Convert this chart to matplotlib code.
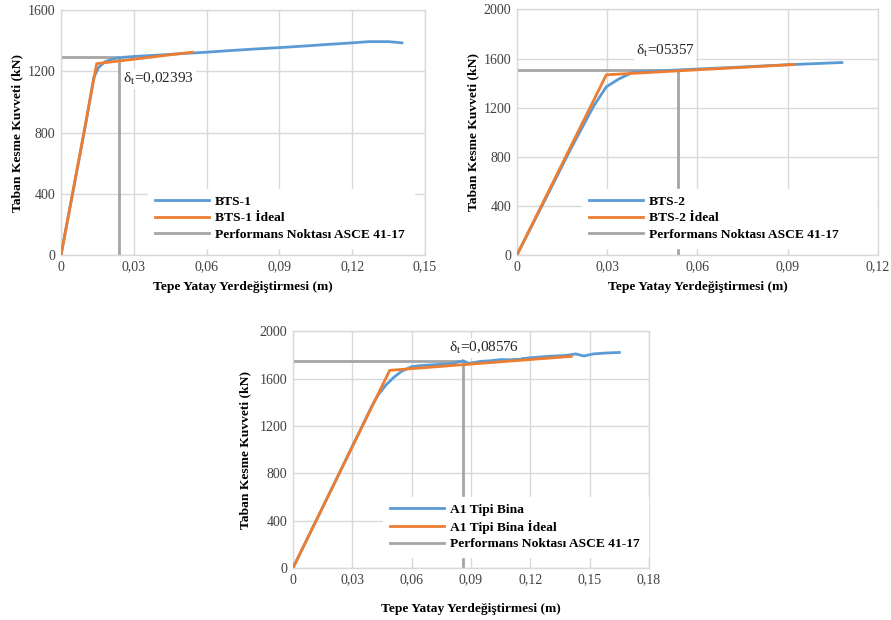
import matplotlib
matplotlib.use("Agg")
import matplotlib.pyplot as plt
from matplotlib.ticker import FixedLocator

plt.rcParams['font.family'] = ['Liberation Serif', 'DejaVu Serif']
plt.rcParams['mathtext.fontset'] = 'stix'

# ---- BTS-1 ----
bts1_x = [0, 0.005, 0.010, 0.0135, 0.0155, 0.018, 0.022, 0.026, 0.03, 0.04, 0.05, 0.06, 0.07, 0.08,
          0.09, 0.10, 0.11, 0.12, 0.127, 0.135, 0.1405]
bts1_y = [0, 420, 840, 1160, 1225, 1262, 1284, 1292, 1297, 1306, 1316, 1325, 1336, 1346,
          1355, 1365, 1376, 1386, 1394, 1394, 1386]
bts1i_x = [0, 0.0147, 0.0539]
bts1i_y = [0, 1250, 1325]
perf1_x = 0.02393
perf1_y = 1292
lab1 = ["BTS-1", "BTS-1 İdeal", "Performans Noktası ASCE 41-17"]
ann1 = r"δ$_\mathrm{t}$=0,02393"
xt1 = [0, 0.03, 0.06, 0.09, 0.12, 0.15]
xl1 = ["0", "0,03", "0,06", "0,09", "0,12", "0,15"]
yt1 = [0, 400, 800, 1200, 1600]

# ---- BTS-2 ----
bts2_x = [0, 0.008, 0.018, 0.0255, 0.0297, 0.0338, 0.0386, 0.05, 0.06, 0.07, 0.08, 0.09, 0.10, 0.108]
bts2_y = [0, 385, 870, 1213, 1370, 1433, 1490, 1503, 1515, 1526, 1538, 1550, 1560, 1568]
bts2i_x = [0, 0.0297, 0.0923]
bts2i_y = [0, 1468, 1552]
perf2_x = 0.05357
perf2_y = 1511
lab2 = ["BTS-2", "BTS-2 İdeal", "Performans Noktası ASCE 41-17"]
ann2 = r"δ$_\mathrm{t}$=05357"
xt2 = [0, 0.03, 0.06, 0.09, 0.12]
xl2 = ["0", "0,03", "0,06", "0,09", "0,12"]
yt2 = [0, 400, 800, 1200, 1600, 2000]

# ---- A1 Tipi Bina ----
a1_x = [0, 0.02, 0.04, 0.043, 0.047, 0.051, 0.055, 0.06, 0.065, 0.07, 0.08, 0.086, 0.089, 0.095,
        0.10, 0.105, 0.11, 0.12, 0.13, 0.138, 0.143, 0.147, 0.152, 0.158, 0.165]
a1_y = [0, 683, 1370, 1460, 1545, 1610, 1662, 1700, 1710, 1715, 1725, 1750, 1728, 1745,
        1750, 1760, 1758, 1775, 1788, 1795, 1808, 1790, 1808, 1815, 1820]
a1i_x = [0, 0.0489, 0.1407]
a1i_y = [0, 1669, 1787]
perf3_x = 0.08576
perf3_y = 1745
lab3 = ["A1 Tipi Bina", "A1 Tipi Bina İdeal", "Performans Noktası ASCE 41-17"]
ann3 = r"δ$_\mathrm{t}$=0,08576"
xt3 = [0, 0.03, 0.06, 0.09, 0.12, 0.15, 0.18]
xl3 = ["0", "0,03", "0,06", "0,09", "0,12", "0,15", "0,18"]
yt3 = [0, 400, 800, 1200, 1600, 2000]

BLUE = "#5B9BD5"
ORANGE = "#ED7D31"
GRAY = "#A5A5A5"
GRID = "#D9D9D9"
TXT = "#404040"
FS = 9.7

fig = plt.figure(figsize=(8.91, 6.2), dpi=100)


def panel(rect, cx, cy, ix, iy, px, py, labels, ann, annpos, xt, xl, yt, legrect, ylpad, xlpad):
    ax = fig.add_axes(rect)
    ax.set_xlim(xt[0], xt[-1])
    ax.set_ylim(yt[0], yt[-1])
    ax.xaxis.set_major_locator(FixedLocator(xt))
    ax.set_xticklabels(xl)
    ax.yaxis.set_major_locator(FixedLocator(yt))
    ax.set_yticklabels([str(v) for v in yt])
    ax.grid(True, color=GRID, lw=1.0)
    ax.set_axisbelow(True)
    for s in ax.spines.values():
        s.set_color(GRID)
        s.set_linewidth(1.0)
    ax.tick_params(length=0, labelsize=10, colors=TXT, pad=4)
    l1, = ax.plot(cx, cy, color=BLUE, lw=2.0, label=labels[0], zorder=3)
    l2, = ax.plot(ix, iy, color=ORANGE, lw=2.0, label=labels[1], zorder=4)
    l3, = ax.plot([xt[0], px, px], [py, py, yt[0]], color=GRAY, lw=2.0, label=labels[2], zorder=2)
    ax.text(annpos[0], annpos[1], ann, fontsize=11, color="#262626", va="center", ha="left",
            bbox=dict(facecolor="white", edgecolor="none", pad=1.5), zorder=5)
    ax.set_xlabel("Tepe Yatay Yerdeğiştirmesi (m)", fontsize=FS, fontweight="bold", labelpad=xlpad)
    ax.set_ylabel("Taban Kesme Kuvveti (kN)", fontsize=FS, fontweight="bold", labelpad=ylpad)
    leg = ax.legend(handles=[l1, l2, l3], loc="lower left", bbox_to_anchor=legrect, mode="expand",
                    prop=dict(weight="bold", size=FS), frameon=True, fancybox=False,
                    edgecolor="white", framealpha=1.0, handlelength=4.0, handletextpad=0.45,
                    labelspacing=0.3, borderaxespad=0, borderpad=0.5)
    leg.set_zorder(6)
    return ax


panel([0.0685, 0.5887, 0.4085, 0.395], bts1_x, bts1_y, bts1i_x, bts1i_y, perf1_x, perf1_y,
      lab1, ann1, (0.0255, 1150), xt1, xl1, yt1, (0.24, 0.03, 0.73, 0.227), 3, 5)
panel([0.5802, 0.5887, 0.4052, 0.396], bts2_x, bts2_y, bts2i_x, bts2i_y, perf2_x, perf2_y,
      lab2, ann2, (0.0395, 1660), xt2, xl2, yt2, (0.18, 0.03, 0.815, 0.275), 3, 5)
panel([0.3288, 0.0839, 0.3996, 0.382], a1_x, a1_y, a1i_x, a1i_y, perf3_x, perf3_y,
      lab3, ann3, (0.079, 1860), xt3, xl3, yt3, (0.253, 0.046, 0.745, 0.266), 6, 12)

fig.savefig("out.png", dpi=100)
